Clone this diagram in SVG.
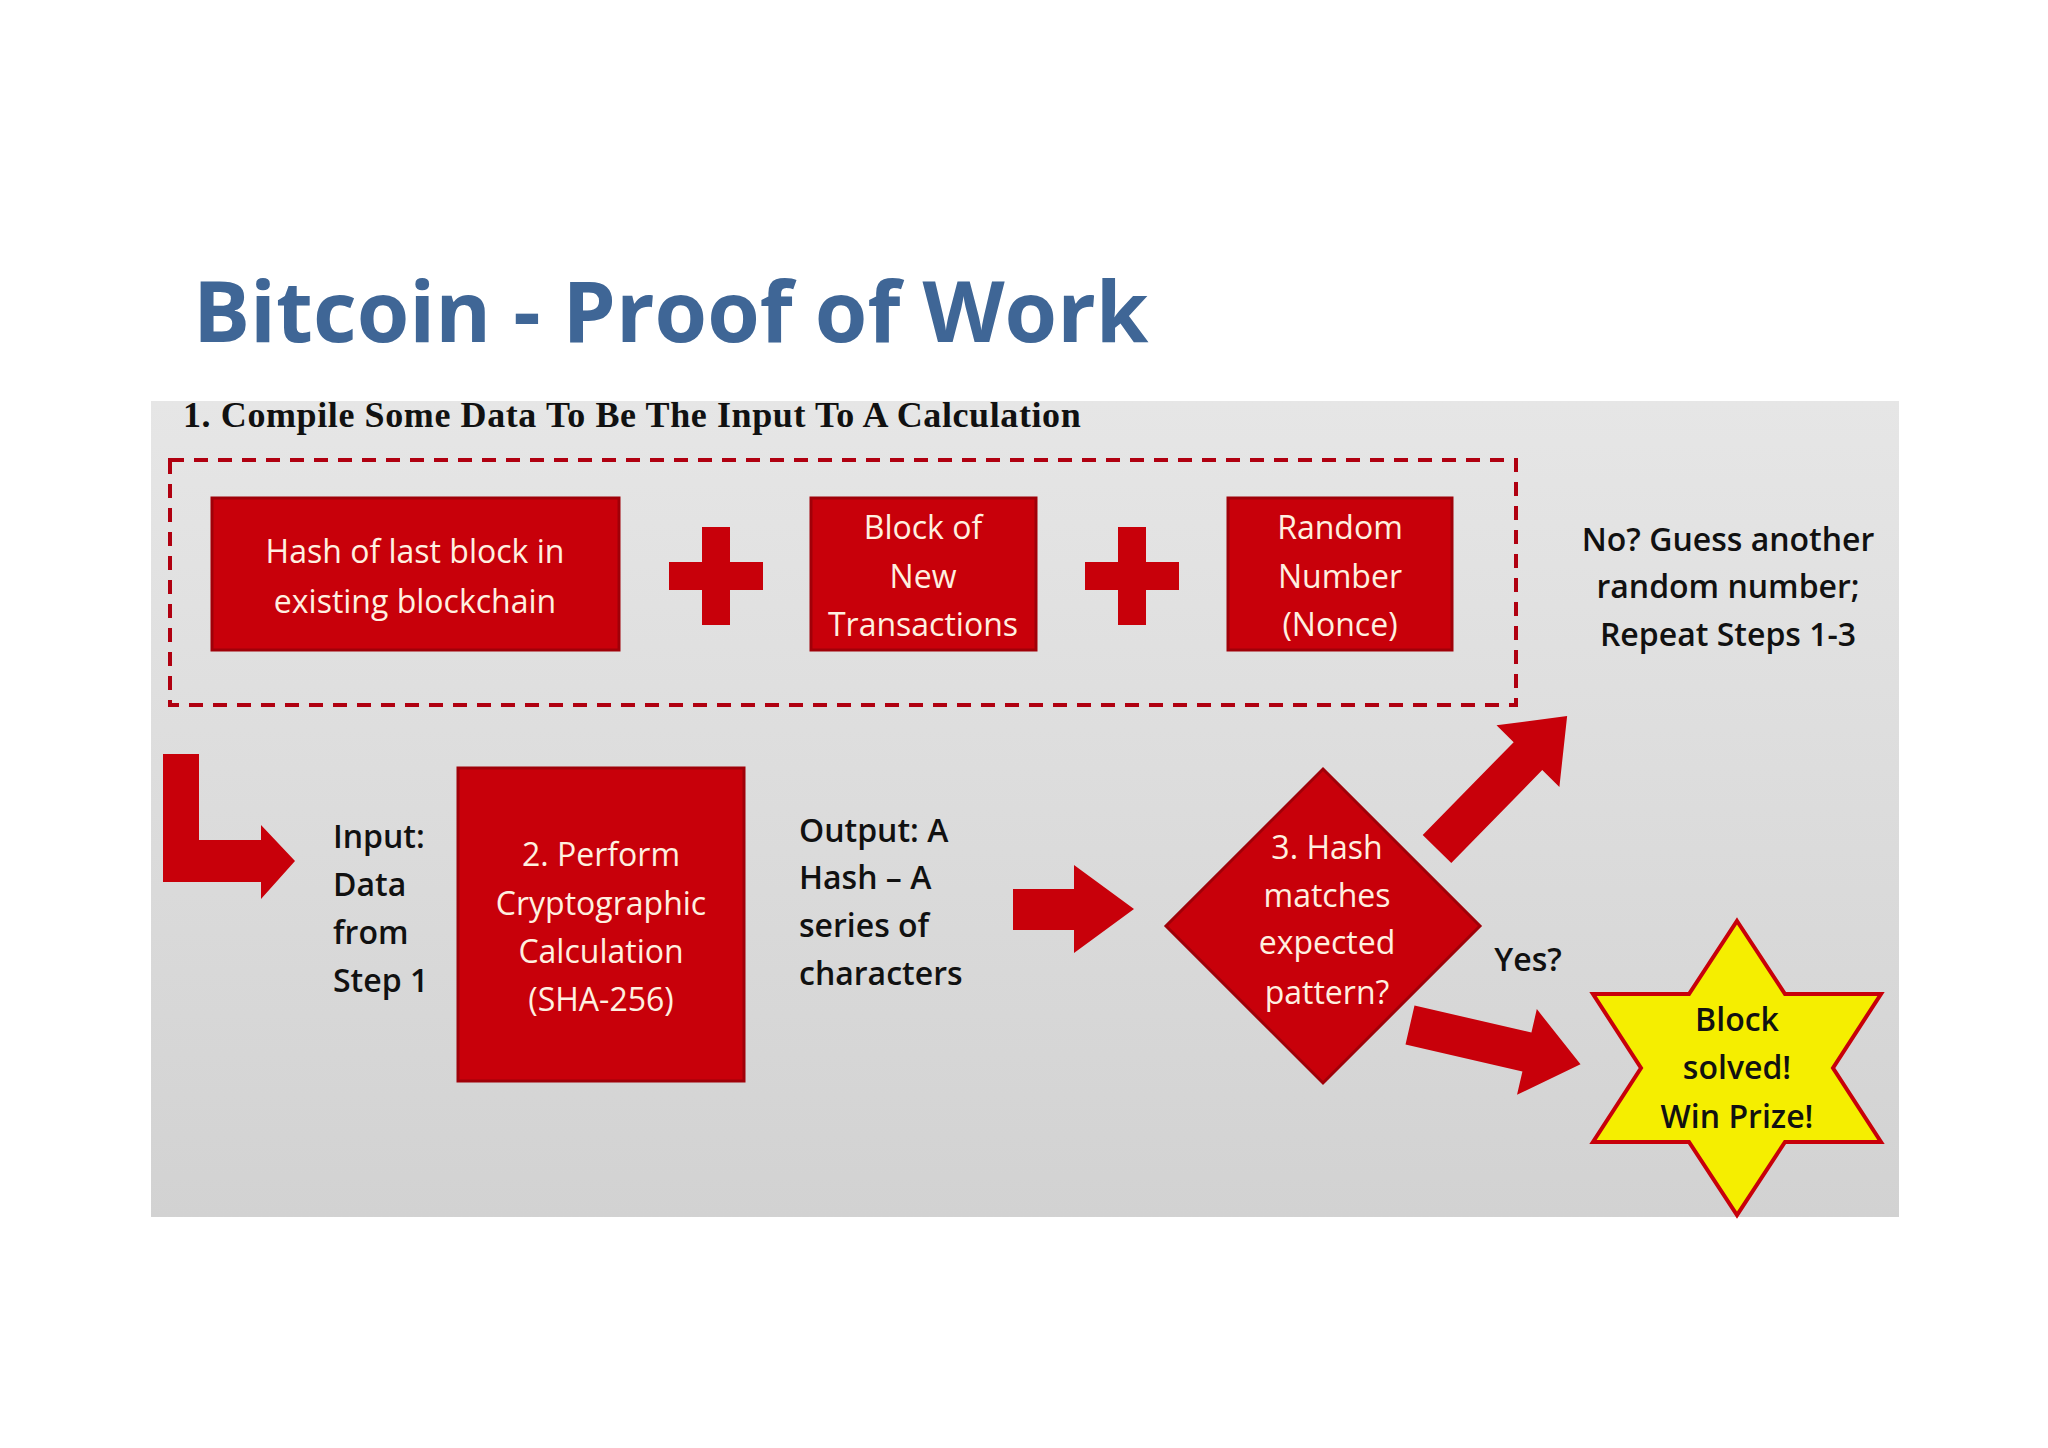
<svg xmlns="http://www.w3.org/2000/svg" width="2048" height="1448" viewBox="0 0 2048 1448">
<defs>
<style>
.box{fill:#c8000a;stroke:#a00008;stroke-width:3}
.wt{font-family:"Open Sans","Noto Sans",sans-serif;font-size:32px;fill:#fff0e0;text-anchor:middle}
.bt{font-family:"Open Sans","Noto Sans",sans-serif;font-size:32px;fill:#111;font-weight:600}
.red{fill:#c8000a}
</style>
<linearGradient id="bg" x1="0" y1="0" x2="0" y2="1"><stop offset="0" stop-color="#e6e6e6"/><stop offset="1" stop-color="#d2d2d2"/></linearGradient>
</defs>
<rect width="2048" height="1448" fill="#fff"/>
<rect x="151" y="401" width="1748" height="816" fill="url(#bg)"/>
<text x="193" y="342" font-family="Open Sans,Noto Sans,sans-serif" font-weight="bold" font-size="85" fill="#3f6696">Bitcoin - Proof of Work</text>
<text x="183" y="427" font-family="Liberation Serif,serif" font-weight="bold" font-size="36" letter-spacing="0.6" fill="#111">1. Compile Some Data To Be The Input To A Calculation</text>
<rect x="170" y="460" width="1346" height="245" fill="none" stroke="#b00010" stroke-width="4" stroke-dasharray="14,10"/>
<g id="n1"><rect class="box" x="212" y="498" width="407" height="152"/><text class="wt" x="415" y="563">Hash of last block in</text><text class="wt" x="415" y="613">existing blockchain</text></g>
<g id="plus1"><rect class="red" x="669" y="562" width="94" height="28"/><rect class="red" x="702" y="527" width="28" height="98"/></g>
<g id="n2"><rect class="box" x="811" y="498" width="225" height="152"/><text class="wt" x="923" y="539">Block of</text><text class="wt" x="923" y="588">New</text><text class="wt" x="923" y="636">Transactions</text></g>
<g id="plus2"><rect class="red" x="1085" y="562" width="94" height="28"/><rect class="red" x="1118" y="527" width="28" height="98"/></g>
<g id="n3"><rect class="box" x="1228" y="498" width="224" height="152"/><text class="wt" x="1340" y="539">Random</text><text class="wt" x="1340" y="588">Number</text><text class="wt" x="1340" y="636">(Nonce)</text></g>
<g id="no"><text class="bt" x="1728" y="551" text-anchor="middle">No?  Guess another</text><text class="bt" x="1728" y="598" text-anchor="middle">random number;</text><text class="bt" x="1728" y="646" text-anchor="middle">Repeat Steps 1-3</text></g>
<g id="connectors">
<polygon class="red" points="163,754 199,754 199,840 261,840 261,825 295,861 261,899 261,882 163,882"/>
<polygon class="red" points="1013,889 1074,889 1074,865 1134,909 1074,953 1074,930 1013,930"/>
<g transform="translate(1437,849) rotate(-45.6)"><polygon class="red" points="0,-20 130,-20 130,-44 186,0 130,44 130,20 0,20"/></g>
<g transform="translate(1410,1025) rotate(13)"><polygon class="red" points="0,-20 120,-20 120,-44 175,0 120,44 120,20 0,20"/></g>
</g>
<g id="input"><text class="bt" x="333" y="848">Input:</text><text class="bt" x="333" y="896">Data</text><text class="bt" x="333" y="944">from</text><text class="bt" x="333" y="992">Step 1</text></g>
<g id="calc"><rect class="box" x="458" y="768" width="286" height="313"/><text class="wt" x="601" y="866">2. Perform</text><text class="wt" x="601" y="915">Cryptographic</text><text class="wt" x="601" y="963">Calculation</text><text class="wt" x="601" y="1011">(SHA-256)</text></g>
<g id="output"><text class="bt" x="799" y="842">Output: A</text><text class="bt" x="799" y="889">Hash – A</text><text class="bt" x="799" y="937">series of</text><text class="bt" x="799" y="985">characters</text></g>
<g id="check"><polygon class="box" points="1323,769 1480,926 1323,1083 1166,926"/><text class="wt" x="1327" y="859">3. Hash</text><text class="wt" x="1327" y="907">matches</text><text class="wt" x="1327" y="954">expected</text><text class="wt" x="1327" y="1004">pattern?</text></g>
<text class="bt" x="1528" y="971" text-anchor="middle">Yes?</text>
<g id="star"><polygon points="1737,921 1785,994 1881,994 1833,1068 1881,1142 1785,1142 1737,1215 1689,1142 1593,1142 1641,1068 1593,994 1689,994" fill="#f5ee00" stroke="#c8000a" stroke-width="4"/><text class="bt" x="1737" y="1031" text-anchor="middle">Block</text><text class="bt" x="1737" y="1079" text-anchor="middle">solved!</text><text class="bt" x="1737" y="1128" text-anchor="middle">Win Prize!</text></g>
</svg>
